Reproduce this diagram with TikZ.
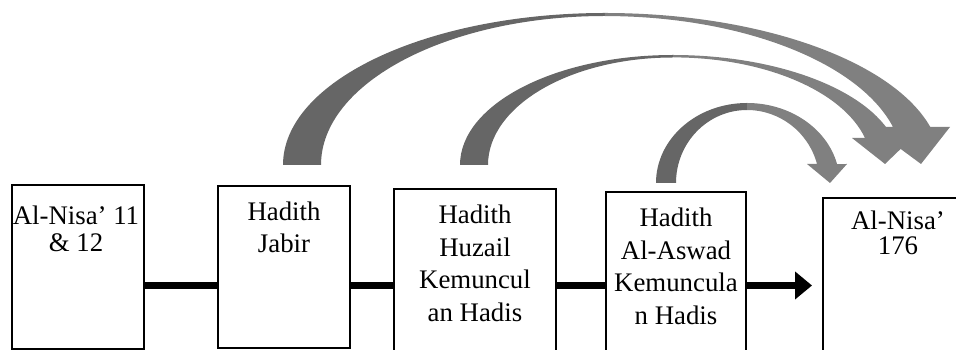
\documentclass[tikz,border=0pt]{standalone}
\usepackage{fontspec}
\setmainfont{Liberation Serif}
\usetikzlibrary{arrows.meta}
\definecolor{arcdark}{RGB}{102,102,102}
\definecolor{arclight}{RGB}{128,128,128}
\begin{document}
\begin{tikzpicture}[x=1pt,y=1pt,
  box/.style={draw=black, line width=1.2pt, rectangle, inner sep=0pt},
  txt/.style={anchor=base, inner sep=0pt, font=\fontsize{26.8}{31}\selectfont},
  conn/.style={line width=7pt, draw=black},
  darkpart/.style={fill=arcdark},
  lightpart/.style={fill=arclight}]
\useasboundingbox (0,0) rectangle (956,350);
\clip (0,0) rectangle (956,350);

% boxes
\node[box, minimum width=132pt, minimum height=164pt] (b1) at (78,83) {};
\node[box, minimum width=132pt, minimum height=162pt] (b2) at (284,83) {};
\node[box, minimum width=162pt, minimum height=171pt] (b3) at (475,75.5) {};
\node[box, minimum width=140pt, minimum height=168pt] (b4) at (676,74) {};
\node[box, minimum width=160pt, minimum height=165pt] (b5) at (903,69.5) {};

% texts
\node[txt] (t1a) at (76,125) {Al-Nisa’ 11};
\node[txt] (t1b) at (76,98) {\& 12};
\node[txt] (t2a) at (284,129) {Hadith};
\node[txt] (t2b) at (284,97) {Jabir};
\node[txt] (t3a) at (475,126) {Hadith};
\node[txt] (t3b) at (475,93) {Huzail};
\node[txt] (t3c) at (475,61) {Kemuncul};
\node[txt] (t3d) at (475,28) {an Hadis};
\node[txt] (t4a) at (676,123) {Hadith};
\node[txt] (t4b) at (676,90) {Al-Aswad};
\node[txt] (t4c) at (676,58) {Kemuncula};
\node[txt] (t4d) at (676,25) {n Hadis};
\node[txt] (t5a) at (898,120) {Al-Nisa’};
\node[txt] (t5b) at (898,95) {176};

% connectors
\coordinate (m) at (0,64.5);
\coordinate (tip) at (812,64.5);
\draw[conn] (b1.east |- m) -- (b2.west |- m);
\draw[conn] (b2.east |- m) -- (b3.west |- m);
\draw[conn] (b3.east |- m) -- (b4.west |- m);
\draw[conn, -{Triangle[length=17pt,width=27pt]}] (b4.east |- m) -- (tip);

% curved arrow 3 (from Hadith Al-Aswad)
\fill[darkpart] (656,167) arc[start angle=180, end angle=90, x radius=91pt, y radius=80pt]
  -- (747,240) arc[start angle=90, end angle=180, x radius=71pt, y radius=73pt] -- cycle;
\fill[lightpart] (747,247) arc[start angle=90, end angle=13.7, x radius=92.7pt, y radius=80pt]
  -- (847,186) -- (830,167) -- (807,186) -- (817,186)
  arc[start angle=15.1, end angle=90, x radius=72.5pt, y radius=73pt] -- cycle;

% curved arrow 2 (from Hadith Huzail)
\fill[darkpart] (460,185) arc[start angle=180, end angle=90, x radius=213pt, y radius=110pt]
  -- (673,292.5) arc[start angle=90, end angle=180, x radius=185pt, y radius=107.5pt] -- cycle;
\fill[lightpart] (673,295) arc[start angle=90, end angle=14.2, x radius=227pt, y radius=110pt]
  -- (912,212) -- (885,186) -- (852,212) -- (865,212)
  arc[start angle=14.5, end angle=90, x radius=198pt, y radius=107.5pt] -- cycle;

% curved arrow 1 (from Hadith Jabir)
\fill[darkpart] (283,185) arc[start angle=180, end angle=90, x radius=322pt, y radius=152pt]
  -- (605,334) arc[start angle=90, end angle=180, x radius=284pt, y radius=149pt] -- cycle;
\fill[lightpart] (605,337) arc[start angle=90, end angle=14.5, x radius=336pt, y radius=152pt]
  -- (950,223) -- (921,186) -- (871,223) -- (893,223)
  arc[start angle=14.8, end angle=90, x radius=298pt, y radius=149pt] -- cycle;
\end{tikzpicture}
\end{document}
